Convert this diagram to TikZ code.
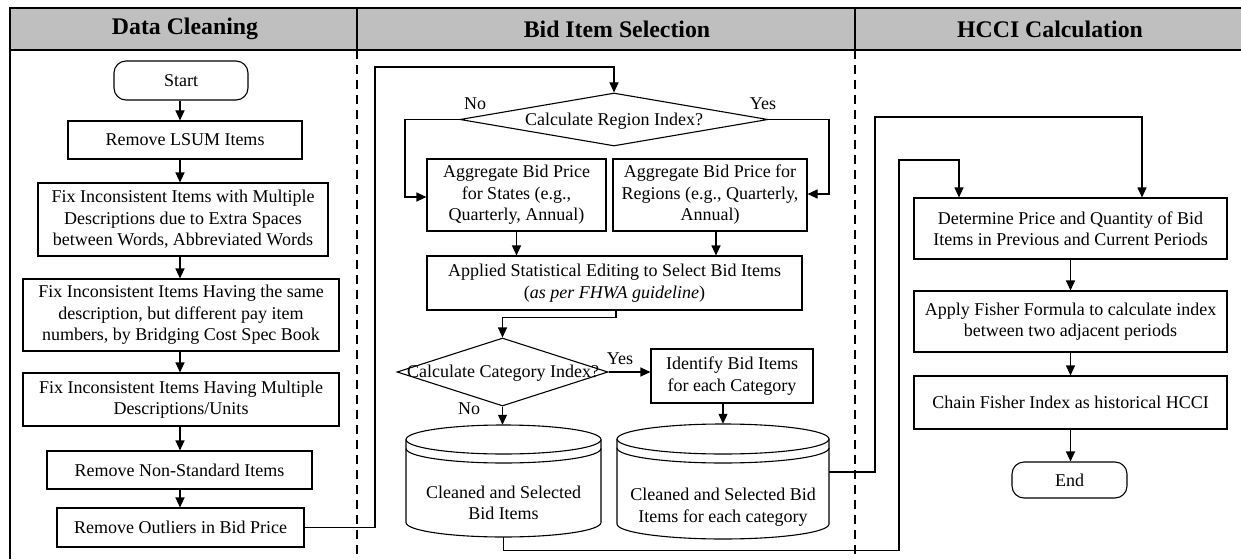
\documentclass[tikz,border=0pt]{standalone}
\usepackage{fontspec}
\setmainfont{Liberation Serif}
\usetikzlibrary{arrows.meta,shapes.geometric,calc}
\newcommand{\fs}{\fontsize{18}{21.5}\selectfont}
\newcommand{\ts}{\fontsize{23.8}{27}\selectfont\bfseries}
\begin{document}
\begin{tikzpicture}[x=1pt,y=-1pt,
  box/.style={draw, line width=1.1pt, inner sep=0pt, align=center, font=\fs},
  term/.style={box, rounded corners=12pt},
  dia/.style={draw, diamond, line width=1.1pt, inner sep=0pt},
  lbl/.style={font=\fs, inner sep=0pt},
  ttl/.style={font=\ts, inner sep=0pt},
  ln/.style={line width=1.1pt},
  arr/.style={line width=1.1pt, -{Triangle[length=10pt,width=9pt]}},
  divd/.style={line width=1.1pt, dash pattern=on 9pt off 6pt}]
\useasboundingbox (0,0) rectangle (1241,559);
% header and frame
\fill[gray!50] (10,8) rectangle (1241,50);
\draw[line width=1.3pt] (10,559) -- (10,8) -- (1241,8);
\draw[line width=1.5pt] (10,50) -- (1241,50);
\draw[ln] (357,8) -- (357,50);
\draw[ln] (855,8) -- (855,50);
\draw[divd] (357,50) -- (357,559);
\draw[divd] (855,50) -- (855,559);
\node[ttl] (t1) at (185,29) {Data Cleaning};
\node[ttl] (t2) at (617,29) {Bid Item Selection};
\node[ttl] (t3) at (1050,29) {HCCI Calculation};
% left column
\node[term, minimum width=134pt, minimum height=39pt] (start) at (181,80.5) {Start};
\node[box, minimum width=234pt, minimum height=38pt] (lsum) at (185,140) {Remove LSUM Items};
\node[box, minimum width=290pt, minimum height=73pt] (fix1) at (183,219.5) {Fix Inconsistent Items with Multiple\\Descriptions due to Extra Spaces\\between Words, Abbreviated Words};
\node[box, minimum width=316pt, minimum height=72pt] (fix2) at (181,315) {Fix Inconsistent Items Having the same\\description, but different pay item\\numbers, by Bridging Cost Spec Book};
\node[box, minimum width=316pt, minimum height=53pt] (fix3) at (181,399.5) {Fix Inconsistent Items Having Multiple\\Descriptions/Units};
\node[box, minimum width=265pt, minimum height=38pt] (nonstd) at (179.5,470) {Remove Non-Standard Items};
\node[box, minimum width=247pt, minimum height=39pt] (outl) at (180.5,527.5) {Remove Outliers in Bid Price};
\coordinate (xa) at (180,0);
\draw[arr] (start.south -| xa) -- (lsum.north -| xa);
\draw[arr] (lsum.south -| xa) -- (fix1.north -| xa);
\draw[arr] (fix1.south -| xa) -- (fix2.north -| xa);
\draw[arr] (fix2.south -| xa) -- (fix3.north -| xa);
\draw[arr] (fix3.south -| xa) -- (nonstd.north -| xa);
\draw[arr] (nonstd.south -| xa) -- (outl.north -| xa);
% middle column
\node[dia, minimum width=308pt, minimum height=53pt] (d1) at (614,119.5) {};
\node[lbl] (d1t) at (614,121) {Calculate Region Index?};
\node[box, minimum width=179pt, minimum height=72pt] (states) at (516.5,195) {Aggregate Bid Price\\for States (e.g.,\\Quarterly, Annual)};
\node[box, minimum width=194pt, minimum height=72pt] (regions) at (710,195) {Aggregate Bid Price for\\Regions (e.g., Quarterly,\\Annual)};
\node[box, minimum width=375pt, minimum height=54pt] (applied) at (614.5,283) {Applied Statistical Editing to Select Bid Items\\(\textit{as per FHWA guideline})};
\node[dia, minimum width=211pt, minimum height=68pt] (d2) at (502.5,372) {};
\node[lbl] (d2t) at (503,373) {Calculate Category Index?};
\node[box, minimum width=162pt, minimum height=54pt] (ident) at (732,376) {Identify Bid Items\\for each Category};
\node[lbl] (no1) at (475,104) {No};
\node[lbl] (yes1) at (763,104) {Yes};
\node[lbl] (yes2) at (620,359) {Yes};
\node[lbl] (no2) at (469,409) {No};
% cylinders
\node[inner sep=0pt, minimum width=195pt, minimum height=112pt] (c1) at (503.5,481) {};
\draw[ln, fill=white] (406,439.5) -- (406,522.5) arc[start angle=180,end angle=360,x radius=97.5pt,y radius=14.5pt] -- (601,439.5);
\draw[ln] (503.5,439.5) ellipse[x radius=97.5pt, y radius=14.5pt];
\draw[ln] (406,448.5) arc[start angle=180,end angle=360,x radius=97.5pt,y radius=14.5pt];
\node[lbl, align=center] (c1t) at (503.5,503) {Cleaned and Selected\\Bid Items};
\node[inner sep=0pt, minimum width=212pt, minimum height=115pt] (c2) at (723,481.5) {};
\draw[ln, fill=white] (617,439) -- (617,524) arc[start angle=180,end angle=360,x radius=106pt,y radius=15pt] -- (829,439);
\draw[ln] (723,439) ellipse[x radius=106pt, y radius=15pt];
\draw[ln] (617,448) arc[start angle=180,end angle=360,x radius=106pt,y radius=15pt];
\node[lbl, align=center] (c2t) at (723,507) {Cleaned and Selected Bid\\Items for each category};
% middle connectors
\coordinate (k1) at (375,67);
\draw[arr] (outl.east) -| (k1) -| (d1.north);
\coordinate (k2) at (405,197);
\draw[arr] (d1.west) -| (k2) -- (k2 -| states.west);
\coordinate (k2b) at (829,194);
\draw[arr] (d1.east) -| (k2b) -- (k2b -| regions.east);
\draw[arr] (states.south) -- (states.south |- applied.north);
\draw[arr] ($(regions.south)+(6,0)$) -- ($(regions.south |- applied.north)+(6,0)$);
\draw[arr] ($(applied.south)+(1.5,0)$) -- ++(0,7) -| (d2.north);
\draw[arr] (d2.east) -- (d2.east -| ident.west);
\draw[arr] (d2.south) -- (c1.north -| d2.south);
\draw[arr] ($(ident.south)+(-9,0)$) -- ($(c2.north -| ident.south)+(-9,0)$);
% right column
\node[box, minimum width=313pt, minimum height=61pt] (det) at (1070.5,228.5) {Determine Price and Quantity of Bid\\Items in Previous and Current Periods};
\node[box, minimum width=313pt, minimum height=61pt] (apply) at (1070.5,321.5) {Apply Fisher Formula to calculate index\\between two adjacent periods};
\node[box, minimum width=313pt, minimum height=53pt] (chain) at (1070.5,402.5) {Chain Fisher Index as historical HCCI};
\node[term, minimum width=115pt, minimum height=36pt] (end) at (1069.5,480) {End};
\draw[arr] (det.south) -- (apply.north);
\draw[arr] (apply.south) -- (chain.north);
\draw[arr] (chain.south) -- (chain.south |- end.north);
\coordinate (k3) at (875,117);
\draw[arr] (829,472) -| (k3) -| ($(det.north)+(71.5,0)$);
\coordinate (k4) at (899,160);
\draw[arr] (c1.south) -- ++(0,13) -| (k4) -| ($(det.north)+(-111.5,0)$);
\end{tikzpicture}
\end{document}
